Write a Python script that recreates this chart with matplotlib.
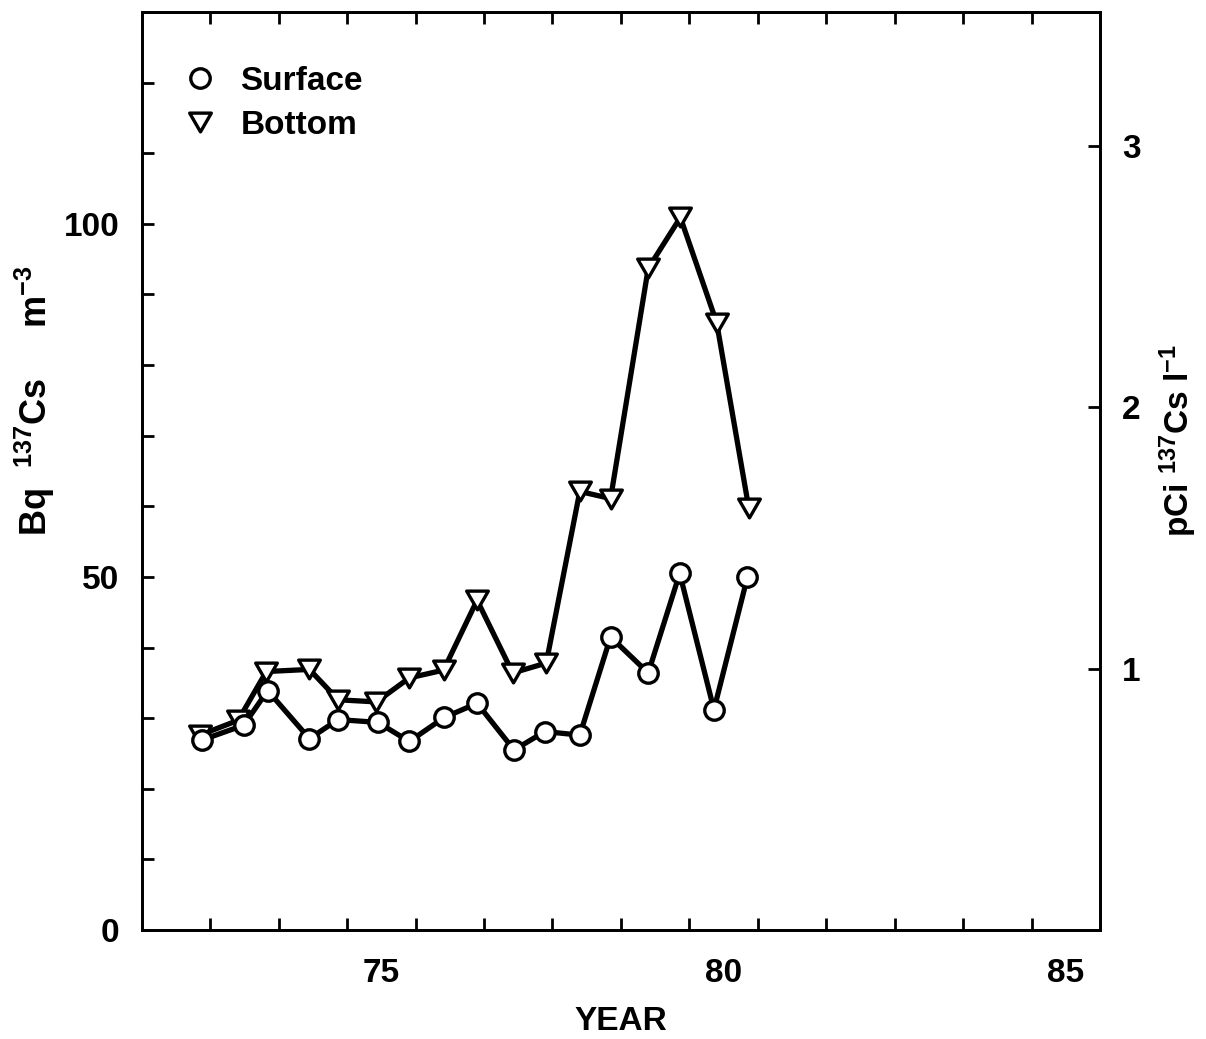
import matplotlib
matplotlib.use("Agg")
import matplotlib.pyplot as plt
from matplotlib.lines import Line2D
from matplotlib.path import Path

plt.rcParams['font.family'] = ['Liberation Sans', 'DejaVu Sans']
plt.rcParams['font.weight'] = 'bold'
plt.rcParams['mathtext.fontset'] = 'custom'
plt.rcParams['mathtext.rm'] = 'Liberation Sans:bold'
plt.rcParams['mathtext.it'] = 'Liberation Sans:bold'
plt.rcParams['mathtext.bf'] = 'Liberation Sans:bold'

## 137Cs concentrations, Bq per m3, sampled about twice a year
surf_year = [72.88, 73.49, 73.84, 74.45, 74.87, 75.45, 75.91, 76.42, 76.90,
             77.44, 77.89, 78.40, 78.85, 79.40, 79.86, 80.36, 80.85]
surf_bq = [26.9, 29.0, 33.9, 27.1, 29.8, 29.4, 26.7, 30.1, 32.1,
           25.5, 28.1, 27.6, 41.5, 36.4, 50.5, 31.2, 50.0]

bott_year = [72.85, 73.41, 73.82, 74.45, 74.87, 75.43, 75.91, 76.41, 76.90,
             77.42, 77.91, 78.40, 78.85, 79.40, 79.87, 80.40, 80.87]
bott_bq = [27.6, 29.7, 36.6, 36.9, 32.6, 32.3, 35.7, 36.8, 46.7,
           36.4, 37.8, 62.1, 61.1, 93.7, 100.9, 86.0, 59.7]

year_ticks = list(range(73, 86))
year_labels = ['75', '80', '85']
bq_labels = [0, 50, 100]
pci_labels = [1, 2, 3]
BQ_PER_PCI = 37.0   # 1 pCi/l = 37 Bq/m3

FS = 24
## closed equilateral triangle pointing down
tri = Path([(-1, 0.866), (1, 0.866), (0, -0.866), (0, 0)],
           [Path.MOVETO, Path.LINETO, Path.LINETO, Path.CLOSEPOLY])

fig = plt.figure(figsize=(12.06, 10.39), dpi=100)
ax = fig.add_axes([0.1175, 0.1049, 0.7946, 0.8836])

ax.plot(bott_year, bott_bq, color='black', lw=3.8, marker=tri, ms=15.6,
        mfc='white', mec='black', mew=2.4, zorder=3)
ax.plot(surf_year, surf_bq, color='black', lw=3.8, marker='o', ms=14,
        mfc='white', mec='black', mew=2.4, zorder=4)

ax.set_xlim(72, 86)
ax.set_ylim(0, 130)

## year boundaries as ticks, labels sit in the middle of the year
ax.set_xticks(year_ticks)
ax.set_xticklabels([])
ax.set_xticks([float(y) + 0.5 for y in year_labels], labels=year_labels, minor=True)
ax.tick_params(axis='x', which='major', direction='in', length=8.5, width=2,
               top=True, bottom=True)
ax.tick_params(axis='x', which='minor', length=0, pad=20, labelsize=FS)

ax.set_yticks(bq_labels)
ax.set_yticks(range(10, 130, 10), minor=True)
ax.tick_params(axis='y', which='both', direction='in', length=8.5, width=2,
               pad=16, labelsize=FS)

for s in ax.spines.values():
    s.set_linewidth(2)

ax.set_xlabel('YEAR', fontsize=FS, fontweight='bold')
ax.xaxis.set_label_coords(0.5, -0.083)
ax.set_ylabel(r'Bq  $^{137}$Cs     m$^{-3}$', fontsize=26, fontweight='bold')
ax.yaxis.set_label_coords(-0.088, 0.577)

## right hand scale in pCi per litre
ax2 = ax.twinx()
ax2.set_ylim(0, 130 / BQ_PER_PCI)
ax2.set_yticks(pci_labels)
ax2.tick_params(axis='y', direction='in', length=8.5, width=2, pad=16, labelsize=FS)
ax2.set_ylabel(r'pCi $^{137}$Cs l$^{-1}$', fontsize=FS, fontweight='bold')
ax2.yaxis.set_label_coords(1.0605, 0.533)
for s in ax2.spines.values():
    s.set_linewidth(2)

handles = [
    Line2D([], [], ls='none', marker='o', ms=14, mfc='white', mec='black', mew=2.4),
    Line2D([], [], ls='none', marker=tri, ms=15.6, mfc='white', mec='black', mew=2.4),
]
ax.legend(handles, ['Surface', 'Bottom'], loc='upper left',
          bbox_to_anchor=(0.030, 0.956), frameon=False, fontsize=FS,
          handlelength=1.0, handletextpad=0.7, labelspacing=0.4, borderaxespad=0)

fig.savefig('out.png', dpi=100)
